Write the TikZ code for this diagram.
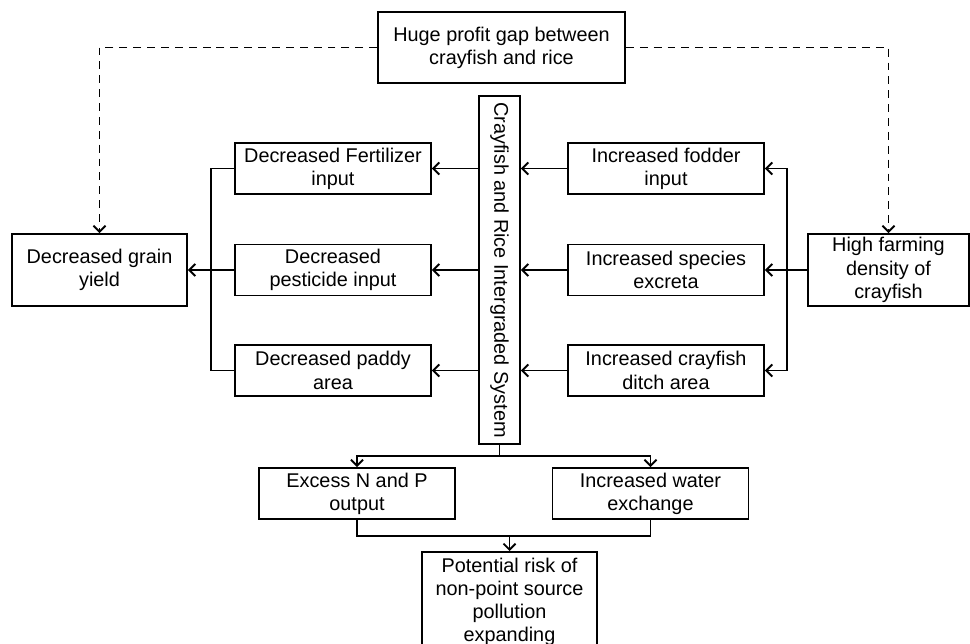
\documentclass[tikz,border=0pt]{standalone}
\usepackage{fontspec}
\setmainfont{Liberation Sans}
\usetikzlibrary{arrows.meta}

\begin{document}
\begin{tikzpicture}[x=0.02cm, y=-0.02cm,
        box/.style={draw, line width=1.1pt, align=center, inner sep=0pt,
            font=\fontsize{11.3}{13.2}\selectfont},
        link/.style={line width=1.1pt},
        >={Straight Barb[length=1.2mm, width=2.4mm]}]
        \useasboundingbox (0, 0) rectangle (970, 644);

        \node (gap) at (501.5, 47.5) [box, minimum width=4.94cm, minimum height=1.42cm] {Huge profit gap between\\crayfish and rice};

        \node (grain) at (99.5, 270) [box, minimum width=3.5cm, minimum height=1.44cm] {Decreased grain\\yield};
        \node (farm) at (888.5, 270) [box, minimum width=3.22cm, minimum height=1.44cm] {High farming\\density of\\crayfish};

        \node (fert) at (333, 168.5) [box, minimum width=3.92cm, minimum height=1.02cm] {Decreased Fertilizer\\input};
        \node (pest) at (333, 270) [box, minimum width=3.92cm, minimum height=1.02cm] {Decreased\\pesticide input};
        \node (paddy) at (333, 370.5) [box, minimum width=3.92cm, minimum height=1.02cm] {Decreased paddy\\area};

        \node (sys) at (499.5, 270) [box, rotate=-90, minimum width=6.96cm, minimum height=0.82cm] {Crayfish and Rice Intergraded System};

        \node (fodder) at (666, 168.5) [box, minimum width=3.92cm, minimum height=1.02cm] {Increased fodder\\input};
        \node (excreta) at (666, 270) [box, minimum width=3.92cm, minimum height=1.02cm] {Increased species\\excreta};
        \node (ditch) at (666, 370.5) [box, minimum width=3.92cm, minimum height=1.02cm] {Increased crayfish\\ditch area};

        \node (excess) at (357, 493.5) [box, minimum width=3.92cm, minimum height=1.02cm] {Excess N and P\\output};
        \node (water) at (650.5, 493.5) [box, minimum width=3.92cm, minimum height=1.02cm] {Increased water\\exchange};

        \node (risk) at (509.5, 551) [box, anchor=north, minimum width=3.5cm, minimum height=2.0cm] {Potential risk of\\non-point source\\pollution\\expanding};

        \coordinate (lbus) at (211, 270);
        \coordinate (rbus) at (787, 270);
        \coordinate (split) at (499.5, 456);
        \coordinate (join) at (509.5, 536);

        % profit gap drives both sides
        \draw [link, ->, dash pattern=on 4.5pt off 3.4pt] (gap.west) -| (grain.north);
        \draw [link, ->, dash pattern=on 4.5pt off 3.4pt] (gap.east) -| (farm.north);

        % crayfish side
        \draw [link, ->] (farm.west) -- (excreta.east);
        \foreach \b in {fodder, ditch}
            {\draw [link, ->] (rbus) |- (\b);}
        \foreach \a in {fodder, excreta, ditch}
            {\draw [link, ->] (\a) -- (sys.north |- \a);}

        % rice side
        \foreach \b in {fert, pest, paddy}
            {\draw [link, ->] (sys.south |- \b) -- (\b);}
        \foreach \a in {fert, paddy}
            {\draw [link] (\a) -| (lbus);}
        \draw [link, ->] (pest.west) -- (grain.east);

        % outputs
        \draw [link] (sys.east) -- (split);
        \foreach \b in {excess, water}
            {\draw [link, ->] (split) -| (\b);}
        \foreach \a in {excess, water}
            {\draw [link] (\a.south) |- (join);}
        \draw [link, ->] (join) -- (risk);
    \end{tikzpicture}
\end{document}
